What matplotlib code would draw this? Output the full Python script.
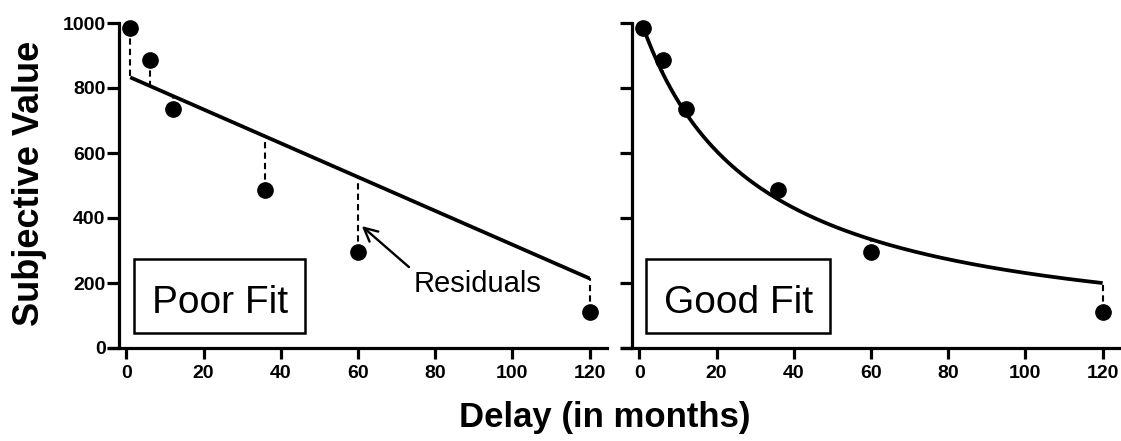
import numpy as np
import matplotlib
matplotlib.use('Agg')
import matplotlib.pyplot as plt
from matplotlib.patches import Rectangle

plt.rcParams['font.family'] = ['Liberation Sans', 'DejaVu Sans']

# data
delay = np.array([1, 6, 12, 36, 60, 120])
value = np.array([985, 885, 735, 485, 295, 110])
xticks = [0, 20, 40, 60, 80, 100, 120]
yticks = [0, 200, 400, 600, 800, 1000]

# poor fit: straight line, good fit: hyperbola A/(1+kD)
lin_a, lin_b = 838, -5.2
hyp_a, hyp_k = 1020, 0.0342

def poor(d):
    return lin_a + lin_b * d

def good(d):
    return hyp_a / (1 + hyp_k * d)

fig = plt.figure(figsize=(11.21, 4.41), dpi=100)
W, H = 1121, 441
ax1 = fig.add_axes([109 / W, 1 - 348 / H, 498 / W, 325 / H])
ax2 = fig.add_axes([622 / W, 1 - 348 / H, 498 / W, 325 / H])

dd = np.linspace(1, 120, 300)
panels = [(ax1, poor, 'Poor Fit', 2.1, 46.2), (ax2, good, 'Good Fit', 1.8, 49.4)]
for ax, model, label, bx0, bx1 in panels:
    ax.set_xlim(-4.5, 124.5)
    ax.set_ylim(0, 1000)
    ax.plot(dd, model(dd), color='black', lw=2.7, solid_capstyle='butt')
    for d, v in zip(delay, value):
        ax.plot([d, d], [v, model(d)], color='black', lw=1.5, ls=(0, (3, 2)))
    ax.plot(delay, value, 'o', color='black', ms=11, clip_on=False, zorder=5)

    ax.spines['top'].set_visible(False)
    ax.spines['right'].set_visible(False)
    ax.spines['left'].set_position(('data', -1.8))
    ax.spines['left'].set_bounds(0, 1000)
    for s in ['left', 'bottom']:
        ax.spines[s].set_linewidth(2.3)
    ax.set_xticks(xticks)
    ax.set_yticks(yticks)
    ax.tick_params(width=2.3, labelsize=14)
    ax.tick_params(axis='x', length=8, pad=4)
    ax.tick_params(axis='y', length=9, pad=1)
    for t in ax.get_xticklabels() + ax.get_yticklabels():
        t.set_fontweight('bold')

    ax.add_patch(Rectangle((bx0, 46), bx1 - bx0, 228, fill=False, lw=1.8,
                           ec='black', clip_on=False))
    ax.text((bx0 + bx1) / 2, 108, label, fontsize=28, ha='center', va='baseline')

ax2.tick_params(axis='y', labelleft=False)

ax1.annotate('', xy=(61, 375), xytext=(73.2, 249),
             arrowprops=dict(arrowstyle='->', color='black', lw=1.7,
                             mutation_scale=24, shrinkA=0, shrinkB=0))
ax1.text(74.5, 172, 'Residuals', fontsize=21, ha='left', va='baseline')

fig.text(30 / W, 1 - 183 / H, 'Subjective Value', rotation=90, fontsize=26,
         fontweight='bold', ha='center', va='center')
fig.text(605 / W, 1 - 427 / H, 'Delay (in months)', fontsize=25,
         fontweight='bold', ha='center', va='baseline')

fig.savefig('out.png', dpi=100)
